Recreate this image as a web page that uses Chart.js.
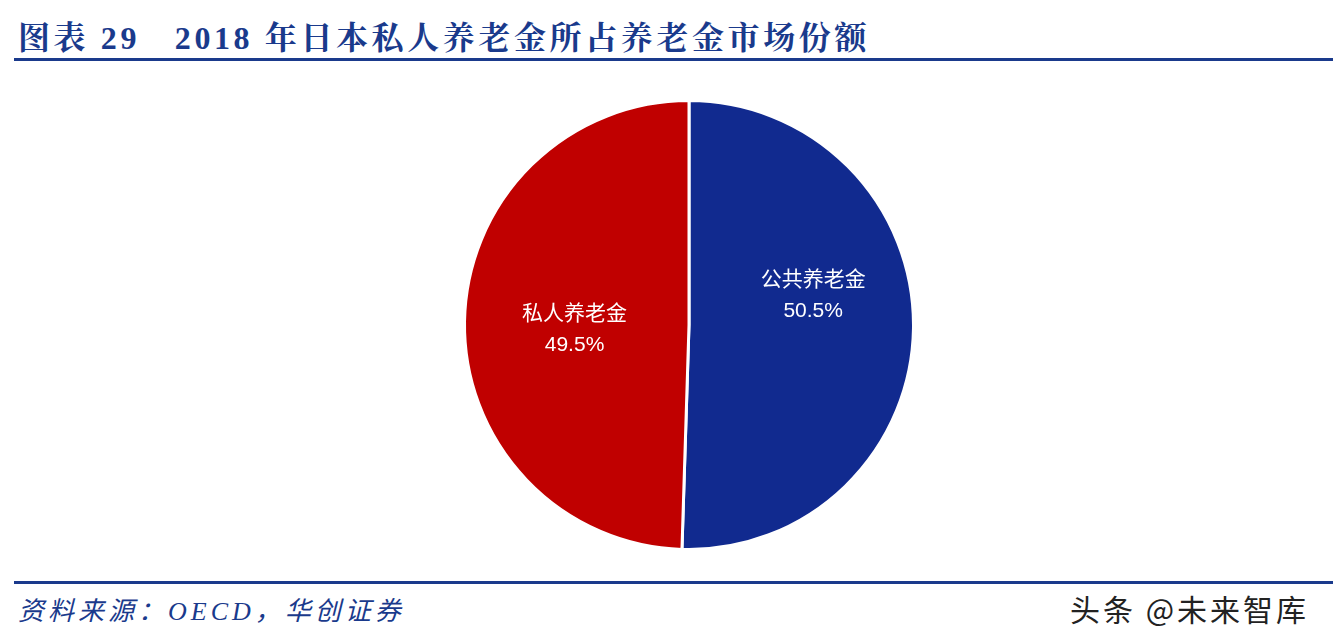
<!DOCTYPE html>
<html><head><meta charset="utf-8">
<script src="https://cdn.jsdelivr.net/npm/chart.js@4/dist/chart.umd.min.js"></script>
<style>
body{margin:0;width:1333px;height:641px;background:#fff;position:relative;overflow:hidden;font-family:"Noto Sans CJK SC",sans-serif}
#title{position:absolute;left:18px;top:12px;font:bold 32px "Liberation Serif","Noto Serif CJK SC","Noto Sans CJK SC",serif;letter-spacing:3.6px;color:#1a3a8c;white-space:pre}
.line{position:absolute;left:14px;width:1320px;height:3px;background:#1a3a8c}
#foot{position:absolute;left:18px;top:590px;font:italic 26px "Liberation Serif","Noto Sans CJK SC",serif;letter-spacing:4px;color:#1a3a8c}
#wm{position:absolute;left:1070px;top:586px;font:30px "Noto Sans CJK SC",sans-serif;letter-spacing:3px;color:#222}
#box{position:absolute;left:459px;top:95px;width:460px;height:460px}
</style></head><body>
<div id="title">图表 29   2018 年日本私人养老金所占养老金市场份额</div>
<div class="line" style="top:58px"></div>
<div class="line" style="top:581px"></div>
<div id="foot">资料来源：OECD，华创证券</div>
<div id="wm">头条 @未来智库</div>
<div id="box"><canvas id="c"></canvas></div>
<script>
const categories=["公共养老金","私人养老金"];
const values=[50.5,49.5];
const colors=["#112a8f","#c00000"];
const tweak=[{da:-0.26,f:0.57},{da:-0.04,f:0.51}];
const labelPlugin={id:"lbl",afterDatasetsDraw(ch){
  const ctx=ch.ctx;ch.getDatasetMeta(0).data.forEach((a,i)=>{
    const ang=(a.startAngle+a.endAngle)/2+tweak[i].da,r=a.outerRadius*tweak[i].f;
    const x=a.x+Math.cos(ang)*r,y=a.y+Math.sin(ang)*r;
    ctx.save();ctx.fillStyle="#fff";ctx.textAlign="center";ctx.textBaseline="middle";
    ctx.font='21px "Noto Sans CJK SC",sans-serif';ctx.fillText(categories[i],x,y-16);
    ctx.font='21px "Liberation Sans",Arial,sans-serif';ctx.fillText(values[i].toFixed(1)+"%",x,y+17);
    ctx.restore();});
}};
new Chart(document.getElementById("c"),{type:"pie",
data:{labels:categories,datasets:[{data:values,backgroundColor:colors,borderColor:"#fff",borderWidth:3}]},
options:{responsive:true,maintainAspectRatio:false,animation:false,layout:{padding:4},
plugins:{legend:{display:false},tooltip:{enabled:false}}},plugins:[labelPlugin]});
</script></body></html>
